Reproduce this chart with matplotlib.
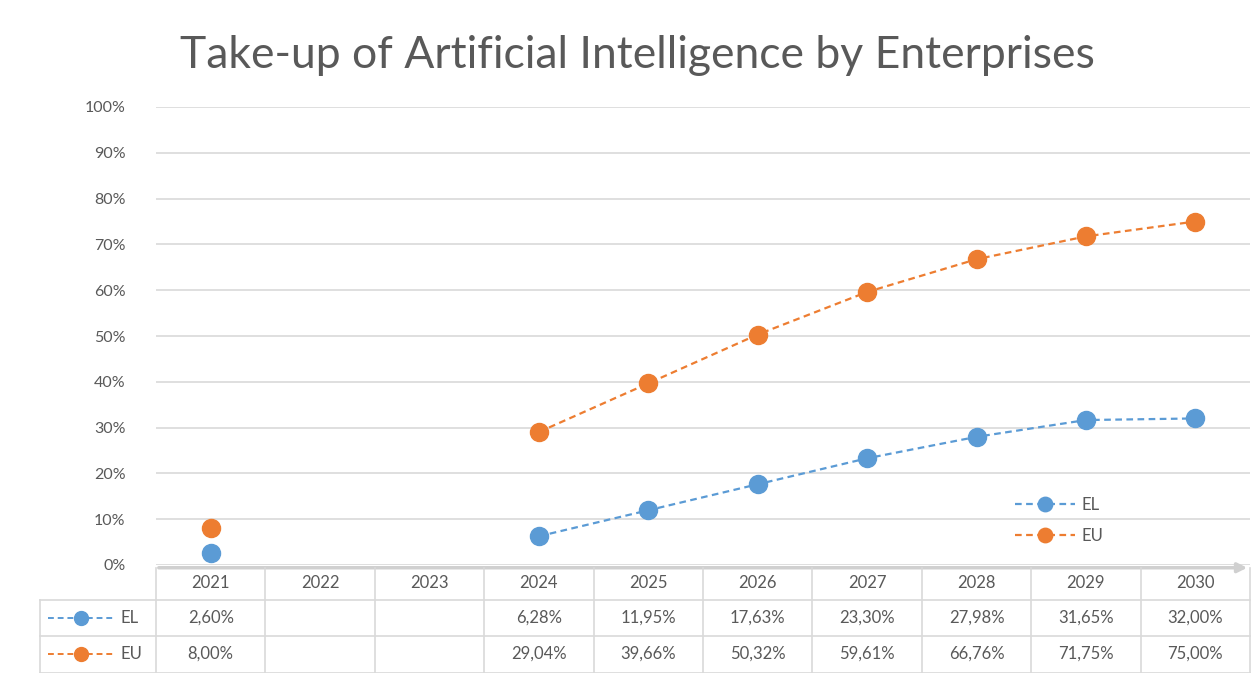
import matplotlib
matplotlib.use("Agg")
import matplotlib.pyplot as plt
import numpy as np
from matplotlib.transforms import blended_transform_factory
from matplotlib.lines import Line2D

plt.rcParams['font.family'] = ['Lato', 'DejaVu Sans']

years = ["2021", "2022", "2023", "2024", "2025", "2026", "2027", "2028", "2029", "2030"]
el = [2.60, None, None, 6.28, 11.95, 17.63, 23.30, 27.98, 31.65, 32.00]
eu = [8.00, None, None, 29.04, 39.66, 50.32, 59.61, 66.76, 71.75, 75.00]
series_names = ["EL", "EU"]
yticks = [0, 10, 20, 30, 40, 50, 60, 70, 80, 90, 100]

W, H = 1256, 673
BLUE = "#5B9BD5"
ORANGE = "#ED7D31"
TXT = "#595959"
GRID = "#D9D9D9"

fig = plt.figure(figsize=(W / 100, H / 100), dpi=100)
fig.patch.set_facecolor("white")

def fx(px):
    return px / W

def fy(py):
    return 1 - py / H

ax = fig.add_axes([fx(156), fy(565), fx(1250) - fx(156), fy(107) - fy(565)])
x = np.arange(len(years))
elv = np.array([np.nan if v is None else v for v in el])
euv = np.array([np.nan if v is None else v for v in eu])

for vals, col, name in [(elv, BLUE, "EL"), (euv, ORANGE, "EU")]:
    ax.plot(x, vals, linestyle=(0, (3, 2)), color=col, lw=1.6, marker="o",
            markersize=13, markerfacecolor=col, markeredgecolor=col, label=name, zorder=3)

ax.set_xlim(-0.5, len(years) - 0.5)
ax.set_ylim(0, 100)
ax.set_yticks(yticks)
ax.set_yticklabels([f"{t}%" for t in yticks], color=TXT, fontsize=11.5)
ax.tick_params(axis="y", length=0, pad=22)
ax.set_xticks([])
ax.grid(axis="y", color=GRID, lw=1.2)
ax.set_axisbelow(True)
for s in ["top", "right", "left", "bottom"]:
    ax.spines[s].set_visible(False)

# axis line with arrow
ax.annotate("", xy=(1.0, -0.006), xytext=(0.0, -0.006), xycoords="axes fraction",
            arrowprops=dict(arrowstyle="-|>", color="#D0D0D0", lw=2.5, mutation_scale=14),
            annotation_clip=False)

fig.text(fx(637), fy(55), "Take-up of Artificial Intelligence by Enterprises",
         ha="center", va="center", fontsize=32, color=TXT)

# legend
leg = ax.legend(loc="upper left", bbox_to_anchor=((1000 - 156) / (1250 - 156), (565 - 482) / 458),
                frameon=False, fontsize=12, labelcolor=TXT, handlelength=3.6, markerscale=0.8,
                labelspacing=0.9, handletextpad=0.4)

# data table
tr = blended_transform_factory(ax.transData, fig.transFigure)
lc = "#D9D9D9"
rows_y = [568, 600, 636, 673]
for i in range(len(years) + 1):
    xb = i - 0.5
    fig.add_artist(Line2D([xb, xb], [fy(568), fy(673)], transform=tr, color=lc, lw=1.2))
for ry in rows_y[1:]:
    fig.add_artist(Line2D([fx(40), fx(1250)], [fy(ry), fy(ry)], transform=fig.transFigure, color=lc, lw=1.2))
fig.add_artist(Line2D([fx(40), fx(40)], [fy(600), fy(673)], transform=fig.transFigure, color=lc, lw=1.2))

for i, yr in enumerate(years):
    fig.text(i, fy(583), yr, transform=tr, ha="center", va="center", fontsize=12, color=TXT)
for vals, ry in [(el, 618), (eu, 654)]:
    for i, v in enumerate(vals):
        if v is not None:
            fig.text(i, fy(ry), f"{v:.2f}%".replace(".", ","), transform=tr,
                     ha="center", va="center", fontsize=12, color=TXT)

for name, col, ry in [("EL", BLUE, 618), ("EU", ORANGE, 654)]:
    fig.add_artist(Line2D([fx(48), fx(114)], [fy(ry), fy(ry)], transform=fig.transFigure,
                          color=col, lw=1.4, linestyle=(0, (3, 2))))
    fig.add_artist(Line2D([fx(81)], [fy(ry)], transform=fig.transFigure, marker="o",
                          markersize=10, color=col))
    fig.text(fx(120), fy(ry), name, ha="left", va="center", fontsize=12, color=TXT)

fig.savefig("out.png", dpi=100, facecolor="white")
